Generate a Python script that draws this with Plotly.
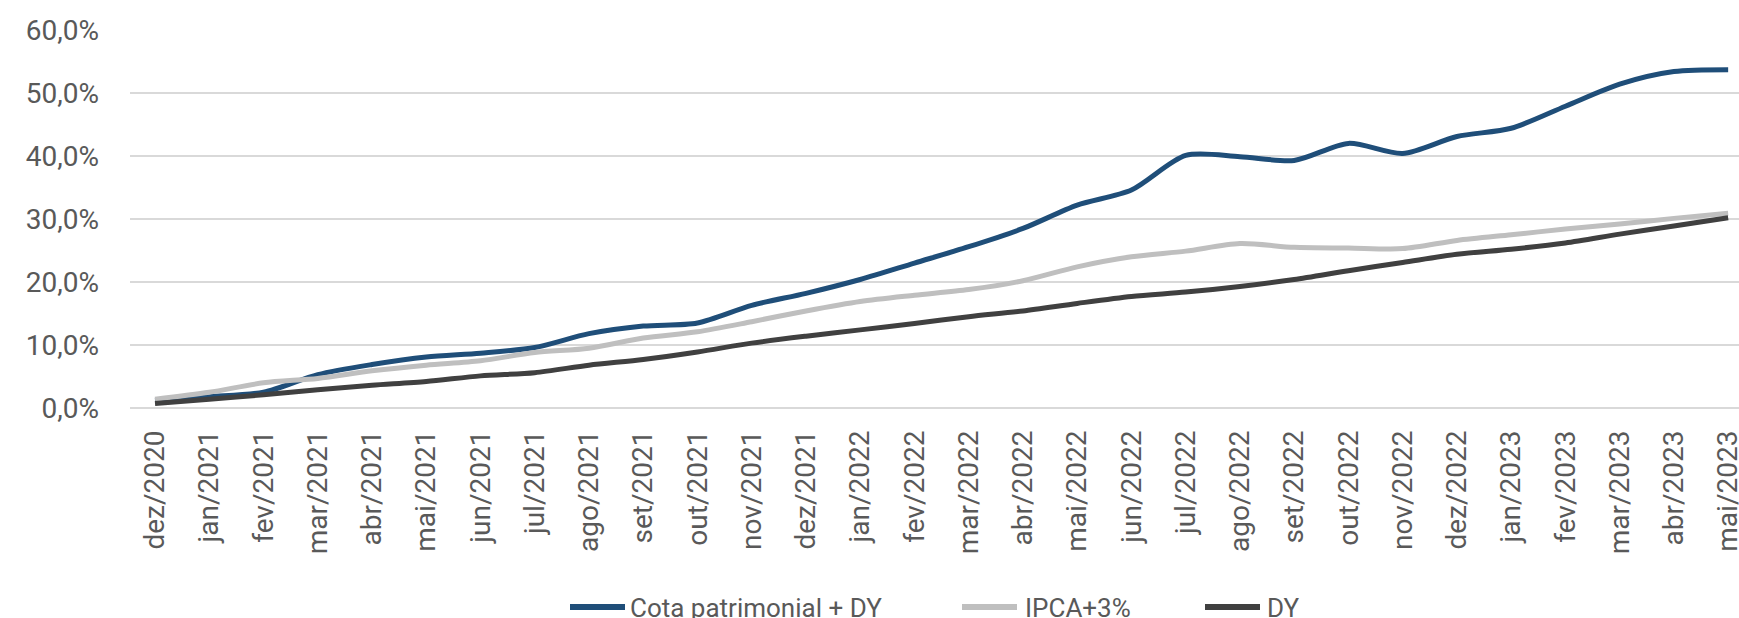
import plotly.graph_objects as go

months = ["dez/2020", "jan/2021", "fev/2021", "mar/2021", "abr/2021", "mai/2021",
          "jun/2021", "jul/2021", "ago/2021", "set/2021", "out/2021", "nov/2021",
          "dez/2021", "jan/2022", "fev/2022", "mar/2022", "abr/2022", "mai/2022",
          "jun/2022", "jul/2022", "ago/2022", "set/2022", "out/2022", "nov/2022",
          "dez/2022", "jan/2023", "fev/2023", "mar/2023", "abr/2023", "mai/2023"]

cota_dy = [1.2, 1.8, 2.5, 5.3, 6.9, 8.1, 8.7, 9.6, 11.8, 13.0,
           13.5, 16.3, 18.2, 20.4, 23.0, 25.6, 28.5, 32.2, 34.6, 40.1,
           39.9, 39.3, 42.0, 40.4, 43.1, 44.4, 47.9, 51.4, 53.4, 53.7]

ipca3 = [1.4, 2.5, 4.0, 4.7, 5.9, 6.8, 7.5, 8.8, 9.5, 11.1,
         12.1, 13.7, 15.4, 16.9, 17.9, 18.8, 20.2, 22.4, 24.0, 24.9,
         26.1, 25.5, 25.4, 25.3, 26.6, 27.5, 28.4, 29.2, 30.1, 30.9]

dy = [0.7, 1.4, 2.1, 2.9, 3.6, 4.2, 5.1, 5.6, 6.8, 7.7,
      8.9, 10.3, 11.4, 12.4, 13.4, 14.5, 15.4, 16.6, 17.7, 18.4,
      19.3, 20.4, 21.8, 23.1, 24.4, 25.2, 26.2, 27.6, 28.9, 30.2]

series_names = ["Cota patrimonial + DY", "IPCA+3%", "DY"]
series_colors = ["#1F4E79", "#BFBFBF", "#404040"]
y_ticks = [0, 10, 20, 30, 40, 50, 60]
y_ticktext = [f"{v:.1f}".replace(".", ",") + "%" for v in y_ticks]

W, H = 1739, 618
ML, MR, MT, MB = 130, 0, 30, 210
PW, PH = W - ML - MR, H - MT - MB

FONT = "Roboto"
TXT = "#595959"

fig = go.Figure()
for name, vals, col in zip(series_names, [cota_dy, ipca3, dy], series_colors):
    fig.add_trace(go.Scatter(
        x=list(range(len(months))), y=vals, name=name, mode="lines",
        line=dict(color=col, width=5, shape="spline", smoothing=0.8),
        showlegend=False, cliponaxis=False,
    ))


def px_x(px):
    return (px - ML) / PW


def px_y(py):
    return (H - MB - py) / PH


# custom legend (line + label), positioned in pixels
legend_items = [(570, 625, 628), (962, 1017, 1023), (1205, 1260, 1265)]
LEG_Y = 607
for (x0, x1, xt), name, col in zip(legend_items, series_names, series_colors):
    fig.add_shape(type="line", xref="paper", yref="paper",
                  x0=px_x(x0), x1=px_x(x1), y0=px_y(LEG_Y), y1=px_y(LEG_Y),
                  line=dict(color=col, width=6))
    fig.add_annotation(xref="paper", yref="paper", x=px_x(xt), y=px_y(LEG_Y + 1),
                       xanchor="left", yanchor="middle", text=name, showarrow=False,
                       font=dict(family=FONT, size=26, color=TXT))

fig.update_layout(
    width=W, height=H,
    margin=dict(l=ML, r=MR, t=MT, b=MB, pad=0, autoexpand=False),
    paper_bgcolor="white", plot_bgcolor="white",
    font=dict(family=FONT, color=TXT),
    showlegend=False,
)
fig.update_xaxes(
    range=[-0.461, 29.2],
    tickmode="array", tickvals=list(range(len(months))), ticktext=months,
    tickangle=-90, tickfont=dict(family=FONT, size=28, color=TXT),
    showgrid=False, zeroline=False, showline=False, ticks="",
    ticklabelstandoff=16, ticklabeloverflow="allow",
)
fig.update_yaxes(
    range=[0, 60], tickmode="array", tickvals=y_ticks, ticktext=y_ticktext,
    tickfont=dict(family=FONT, size=28, color=TXT),
    showgrid=True, gridcolor="#D9D9D9", gridwidth=1.5,
    zeroline=True, zerolinecolor="#D9D9D9", zerolinewidth=1.5,
    showline=False, ticks="", ticklabelstandoff=30,
)

fig.write_html("out.html", config={"displayModeBar": False},
               post_script="document.body.style.margin='0';document.body.style.overflow='hidden';")
